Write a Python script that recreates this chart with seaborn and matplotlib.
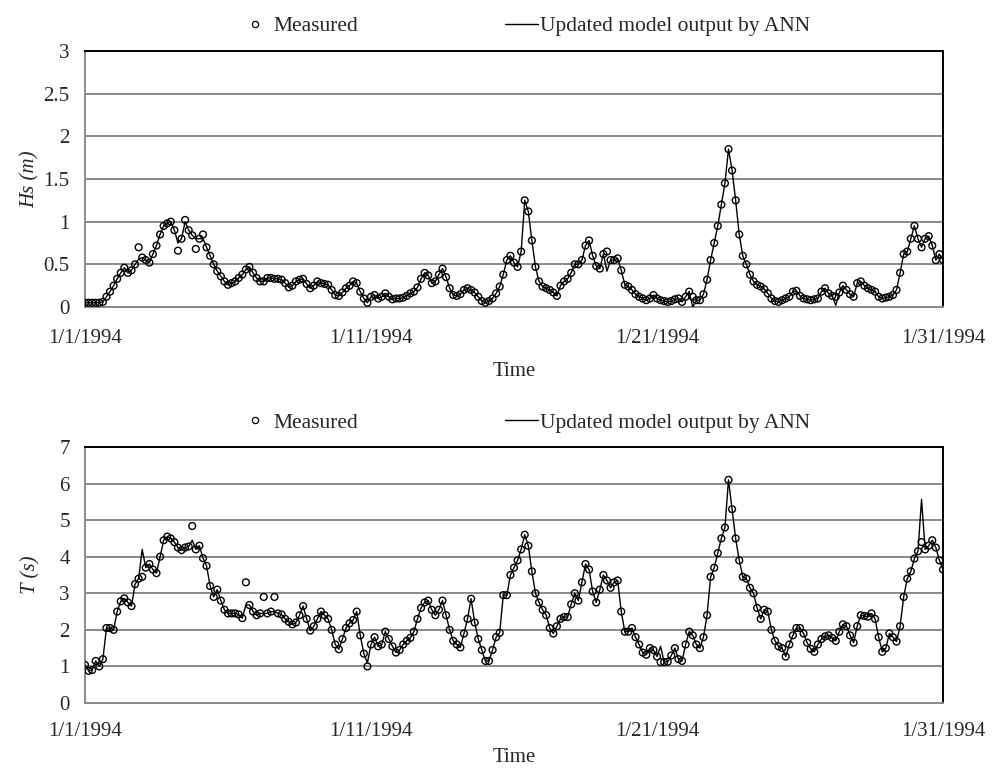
import numpy as np
import pandas as pd
import matplotlib
matplotlib.use("Agg")
import matplotlib.pyplot as plt
from matplotlib.lines import Line2D
import seaborn as sns

# 3-hourly series, 1 Jan 1994 00:00 to 31 Jan 1994 00:00 (one row per day)
hs_measured = [
    0.05, 0.05, 0.05, 0.05, 0.05, 0.06, 0.12, 0.18,
    0.25, 0.33, 0.40, 0.46, 0.40, 0.43, 0.50, 0.70,
    0.58, 0.55, 0.52, 0.62, 0.72, 0.85, 0.95, 0.98,
    1.00, 0.90, 0.66, 0.80, 1.02, 0.90, 0.84, 0.68,
    0.80, 0.85, 0.70, 0.60, 0.50, 0.42, 0.36, 0.30,
    0.26, 0.28, 0.30, 0.34, 0.38, 0.44, 0.47, 0.40,
    0.34, 0.30, 0.30, 0.34, 0.34, 0.33, 0.33, 0.32,
    0.28, 0.23, 0.25, 0.30, 0.32, 0.33, 0.27, 0.22,
    0.25, 0.30, 0.28, 0.27, 0.26, 0.20, 0.14, 0.13,
    0.17, 0.22, 0.25, 0.30, 0.28, 0.18, 0.10, 0.05,
    0.12, 0.14, 0.10, 0.12, 0.16, 0.12, 0.09, 0.10,
    0.10, 0.11, 0.13, 0.16, 0.18, 0.23, 0.33, 0.40,
    0.37, 0.28, 0.30, 0.38, 0.45, 0.35, 0.22, 0.14,
    0.13, 0.15, 0.20, 0.22, 0.20, 0.17, 0.12, 0.07,
    0.05, 0.07, 0.10, 0.16, 0.24, 0.38, 0.55, 0.60,
    0.52, 0.47, 0.65, 1.25, 1.12, 0.78, 0.47, 0.30,
    0.24, 0.22, 0.20, 0.17, 0.13, 0.25, 0.30, 0.33,
    0.40, 0.50, 0.50, 0.55, 0.72, 0.78, 0.60, 0.48,
    0.45, 0.62, 0.65, 0.55, 0.55, 0.57, 0.43, 0.26,
    0.24, 0.20, 0.15, 0.12, 0.10, 0.08, 0.10, 0.14,
    0.10, 0.08, 0.07, 0.06, 0.07, 0.09, 0.10, 0.06,
    0.12, 0.18, 0.12, 0.08, 0.08, 0.15, 0.32, 0.55,
    0.75, 0.95, 1.20, 1.45, 1.85, 1.60, 1.25, 0.85,
    0.60, 0.50, 0.38, 0.30, 0.26, 0.24, 0.21, 0.16,
    0.10, 0.07, 0.06, 0.08, 0.10, 0.12, 0.18, 0.19,
    0.13, 0.10, 0.09, 0.08, 0.09, 0.10, 0.18, 0.22,
    0.16, 0.13, 0.12, 0.17, 0.25, 0.20, 0.15, 0.12,
    0.28, 0.30, 0.25, 0.22, 0.20, 0.18, 0.12, 0.10,
    0.11, 0.12, 0.14, 0.20, 0.40, 0.62, 0.65, 0.80,
    0.95, 0.80, 0.70, 0.80, 0.83, 0.72, 0.55, 0.62,
    0.55,
]

hs_model = [
    0.05, 0.05, 0.05, 0.05, 0.05, 0.06, 0.12, 0.18,
    0.25, 0.33, 0.40, 0.46, 0.40, 0.43, 0.50, 0.56,
    0.58, 0.55, 0.52, 0.62, 0.72, 0.85, 0.95, 0.98,
    1.00, 0.90, 0.75, 0.80, 1.00, 0.90, 0.84, 0.80,
    0.80, 0.80, 0.70, 0.60, 0.50, 0.42, 0.36, 0.30,
    0.26, 0.28, 0.30, 0.34, 0.38, 0.44, 0.47, 0.40,
    0.34, 0.30, 0.30, 0.34, 0.34, 0.33, 0.33, 0.32,
    0.28, 0.23, 0.25, 0.30, 0.32, 0.33, 0.27, 0.22,
    0.25, 0.30, 0.28, 0.27, 0.26, 0.20, 0.14, 0.13,
    0.17, 0.22, 0.25, 0.30, 0.28, 0.18, 0.10, 0.05,
    0.12, 0.14, 0.10, 0.12, 0.16, 0.12, 0.09, 0.10,
    0.10, 0.11, 0.13, 0.16, 0.18, 0.23, 0.33, 0.40,
    0.37, 0.28, 0.30, 0.38, 0.45, 0.35, 0.22, 0.14,
    0.13, 0.15, 0.20, 0.22, 0.20, 0.17, 0.12, 0.07,
    0.05, 0.07, 0.10, 0.16, 0.24, 0.38, 0.55, 0.60,
    0.52, 0.47, 0.65, 1.25, 1.12, 0.78, 0.47, 0.30,
    0.24, 0.22, 0.20, 0.17, 0.13, 0.25, 0.30, 0.33,
    0.40, 0.50, 0.50, 0.55, 0.72, 0.78, 0.60, 0.48,
    0.45, 0.62, 0.42, 0.55, 0.55, 0.57, 0.43, 0.26,
    0.24, 0.20, 0.15, 0.12, 0.10, 0.08, 0.10, 0.14,
    0.10, 0.08, 0.07, 0.06, 0.07, 0.09, 0.10, 0.06,
    0.12, 0.18, 0.00, 0.08, 0.08, 0.15, 0.32, 0.55,
    0.75, 0.95, 1.20, 1.45, 1.85, 1.60, 1.25, 0.85,
    0.60, 0.50, 0.38, 0.30, 0.26, 0.24, 0.21, 0.16,
    0.10, 0.07, 0.06, 0.08, 0.10, 0.12, 0.18, 0.19,
    0.13, 0.10, 0.09, 0.08, 0.09, 0.10, 0.18, 0.22,
    0.16, 0.13, 0.02, 0.17, 0.25, 0.20, 0.15, 0.12,
    0.28, 0.30, 0.25, 0.22, 0.20, 0.18, 0.12, 0.10,
    0.11, 0.12, 0.14, 0.20, 0.40, 0.62, 0.65, 0.80,
    0.95, 0.80, 0.70, 0.80, 0.83, 0.72, 0.55, 0.62,
    0.55,
]

t_measured = [
    1.04, 0.88, 0.90, 1.15, 1.00, 1.20, 2.05, 2.05,
    2.00, 2.50, 2.78, 2.86, 2.75, 2.65, 3.25, 3.40,
    3.45, 3.70, 3.80, 3.65, 3.55, 4.00, 4.45, 4.55,
    4.50, 4.40, 4.25, 4.18, 4.25, 4.28, 4.84, 4.20,
    4.30, 3.96, 3.75, 3.20, 2.90, 3.10, 2.80, 2.55,
    2.45, 2.45, 2.45, 2.42, 2.32, 3.30, 2.68, 2.50,
    2.40, 2.45, 2.90, 2.45, 2.50, 2.90, 2.45, 2.42,
    2.30, 2.22, 2.15, 2.20, 2.40, 2.65, 2.30, 1.98,
    2.10, 2.30, 2.50, 2.40, 2.30, 2.00, 1.60, 1.47,
    1.75, 2.05, 2.18, 2.27, 2.50, 1.85, 1.35, 1.00,
    1.60, 1.80, 1.55, 1.60, 1.95, 1.75, 1.55, 1.38,
    1.45, 1.60, 1.70, 1.78, 1.95, 2.30, 2.60, 2.75,
    2.80, 2.55, 2.40, 2.55, 2.80, 2.40, 2.00, 1.70,
    1.60, 1.52, 1.90, 2.30, 2.85, 2.20, 1.75, 1.45,
    1.15, 1.15, 1.45, 1.80, 1.92, 2.95, 2.95, 3.50,
    3.70, 3.90, 4.20, 4.60, 4.30, 3.60, 3.00, 2.75,
    2.55, 2.40, 2.05, 1.90, 2.10, 2.30, 2.35, 2.35,
    2.70, 3.00, 2.80, 3.30, 3.80, 3.65, 3.05, 2.75,
    3.10, 3.50, 3.35, 3.15, 3.30, 3.35, 2.50, 1.95,
    1.95, 2.05, 1.80, 1.60, 1.38, 1.32, 1.50, 1.45,
    1.27, 1.12, 1.12, 1.13, 1.30, 1.50, 1.20, 1.15,
    1.60, 1.95, 1.85, 1.60, 1.50, 1.80, 2.40, 3.45,
    3.70, 4.10, 4.50, 4.80, 6.10, 5.30, 4.50, 3.90,
    3.45, 3.40, 3.15, 3.00, 2.60, 2.30, 2.55, 2.50,
    2.00, 1.70, 1.55, 1.50, 1.27, 1.60, 1.85, 2.05,
    2.05, 1.90, 1.65, 1.48, 1.40, 1.60, 1.75, 1.82,
    1.85, 1.78, 1.70, 1.95, 2.15, 2.10, 1.85, 1.65,
    2.10, 2.40, 2.38, 2.36, 2.45, 2.30, 1.80, 1.40,
    1.50, 1.90, 1.80, 1.68, 2.10, 2.90, 3.40, 3.60,
    3.95, 4.15, 4.40, 4.20, 4.30, 4.45, 4.25, 3.90,
    3.65,
]

t_model = [
    1.04, 0.88, 0.90, 1.15, 1.00, 1.20, 2.05, 2.05,
    2.00, 2.50, 2.78, 2.86, 2.75, 2.65, 3.25, 3.40,
    4.20, 3.70, 3.80, 3.65, 3.55, 4.00, 4.45, 4.55,
    4.50, 4.40, 4.25, 4.18, 4.25, 4.28, 4.45, 4.20,
    4.30, 3.96, 3.75, 3.20, 2.90, 3.10, 2.80, 2.55,
    2.45, 2.45, 2.45, 2.42, 2.32, 2.68, 2.68, 2.50,
    2.40, 2.45, 2.45, 2.45, 2.50, 2.50, 2.45, 2.42,
    2.30, 2.22, 2.15, 2.20, 2.40, 2.65, 2.30, 1.98,
    2.10, 2.30, 2.50, 2.40, 2.30, 2.00, 1.60, 1.47,
    1.75, 2.05, 2.18, 2.27, 2.50, 1.85, 1.35, 1.10,
    1.60, 1.80, 1.55, 1.60, 1.95, 1.75, 1.55, 1.38,
    1.45, 1.60, 1.70, 1.78, 1.95, 2.30, 2.60, 2.75,
    2.80, 2.55, 2.40, 2.55, 2.80, 2.40, 2.00, 1.70,
    1.60, 1.52, 1.90, 2.30, 2.85, 2.20, 1.75, 1.45,
    1.15, 1.15, 1.45, 1.80, 1.92, 2.95, 2.95, 3.50,
    3.70, 3.90, 4.20, 4.60, 4.30, 3.60, 3.00, 2.75,
    2.55, 2.40, 2.05, 1.90, 2.10, 2.30, 2.35, 2.35,
    2.70, 3.00, 2.80, 3.30, 3.80, 3.65, 3.05, 2.75,
    3.10, 3.50, 3.35, 3.15, 3.30, 3.35, 2.50, 1.95,
    1.95, 2.05, 1.80, 1.60, 1.38, 1.32, 1.50, 1.45,
    1.27, 1.55, 1.12, 1.13, 1.30, 1.50, 1.20, 1.15,
    1.60, 1.95, 1.85, 1.60, 1.50, 1.80, 2.40, 3.45,
    3.70, 4.10, 4.50, 4.80, 6.10, 5.30, 4.50, 3.90,
    3.45, 3.40, 3.15, 3.00, 2.60, 2.30, 2.55, 2.50,
    2.00, 1.70, 1.55, 1.50, 1.27, 1.60, 1.85, 2.05,
    2.05, 1.90, 1.65, 1.48, 1.40, 1.60, 1.75, 1.82,
    1.85, 1.78, 1.70, 1.95, 2.15, 2.10, 1.85, 1.65,
    2.10, 2.40, 2.38, 2.36, 2.45, 2.30, 1.80, 1.40,
    1.50, 1.90, 1.80, 1.68, 2.10, 2.90, 3.40, 3.60,
    3.95, 4.15, 5.57, 4.20, 4.30, 4.45, 4.25, 3.90,
    3.65,
]

tick_dates = ["1994-01-01", "1994-01-11", "1994-01-21", "1994-01-31"]
tick_labels = ["1/1/1994", "1/11/1994", "1/21/1994", "1/31/1994"]
hs_ticks = [0, 0.5, 1, 1.5, 2, 2.5, 3]
hs_tick_labels = ["0", "0.5", "1", "1.5", "2", "2.5", "3"]
t_ticks = [0, 1, 2, 3, 4, 5, 6, 7]
legend_labels = ["Measured", "Updated model output by ANN"]

time = pd.date_range("1994-01-01", periods=len(hs_measured), freq="3h")
df = pd.DataFrame({
    "time": time,
    "hs_measured": hs_measured,
    "hs_model": hs_model,
    "t_measured": t_measured,
    "t_model": t_model,
})

sns.set_theme(style="white")
plt.rcParams["font.family"] = ["Liberation Serif", "DejaVu Serif"]

GRID = "#8a8a8a"
FS = 15

fig = plt.figure(figsize=(10.02, 7.72), dpi=100)
ax_top = fig.add_axes([85 / 1002, 1 - 307 / 772, 858 / 1002, 256 / 772])
ax_bot = fig.add_axes([85 / 1002, 1 - 703 / 772, 858 / 1002, 256 / 772])


def draw_panel(ax, meas_col, model_col, ylim, yticks, yticklabels, ylabel,
               legend_y, xpad, xlabelpad):
    sns.scatterplot(data=df, x="time", y=meas_col, ax=ax, marker="o", s=24,
                    facecolor="none", edgecolor="black", linewidth=1.0,
                    legend=False, zorder=3)
    sns.lineplot(data=df, x="time", y=model_col, ax=ax, color="black",
                 linewidth=1.0, legend=False, zorder=4)

    ax.set_xlim(pd.Timestamp(tick_dates[0]), pd.Timestamp(tick_dates[-1]))
    ax.set_ylim(*ylim)
    ax.set_xticks(pd.to_datetime(tick_dates))
    ax.set_xticklabels(tick_labels, fontsize=FS)
    ax.set_yticks(yticks)
    ax.set_yticklabels(yticklabels, fontsize=FS)

    ax.grid(axis="y", color=GRID, linewidth=1.4)
    ax.grid(axis="x", visible=False)
    ax.set_axisbelow(True)

    for side in ("left", "bottom"):
        ax.spines[side].set_color(GRID)
        ax.spines[side].set_linewidth(1.4)
    for side in ("top", "right"):
        ax.spines[side].set_color("black")
        ax.spines[side].set_linewidth(1.4)
    ax.tick_params(axis="both", direction="out", length=5, width=1.2,
                   color=GRID, pad=6)
    ax.tick_params(axis="x", pad=xpad)

    ax.set_xlabel("Time", fontsize=FS, labelpad=xlabelpad)
    ax.set_ylabel(ylabel, fontsize=FS, fontstyle="italic")
    ax.yaxis.set_label_coords(-45 / 858, 0.5)

    handles = [
        Line2D([], [], marker="o", linestyle="none", markersize=4.5,
               markerfacecolor="none", markeredgecolor="black",
               markeredgewidth=0.9),
        Line2D([], [], color="black", linewidth=1.0),
    ]
    fig.legend(handles, legend_labels, loc="center",
               bbox_to_anchor=(524 / 1002, legend_y), ncol=2, frameon=False,
               fontsize=15.5, handlelength=1.55, handletextpad=0.1,
               columnspacing=6.8)


draw_panel(ax_top, "hs_measured", "hs_model", (0, 3), hs_ticks, hs_tick_labels,
           "Hs (m)", 1 - 26 / 772, 11, 10)
draw_panel(ax_bot, "t_measured", "t_model", (0, 7), t_ticks,
           [str(v) for v in t_ticks], "T (s)", 1 - 423 / 772, 9, 5)

fig.savefig("out.png", dpi=100)
